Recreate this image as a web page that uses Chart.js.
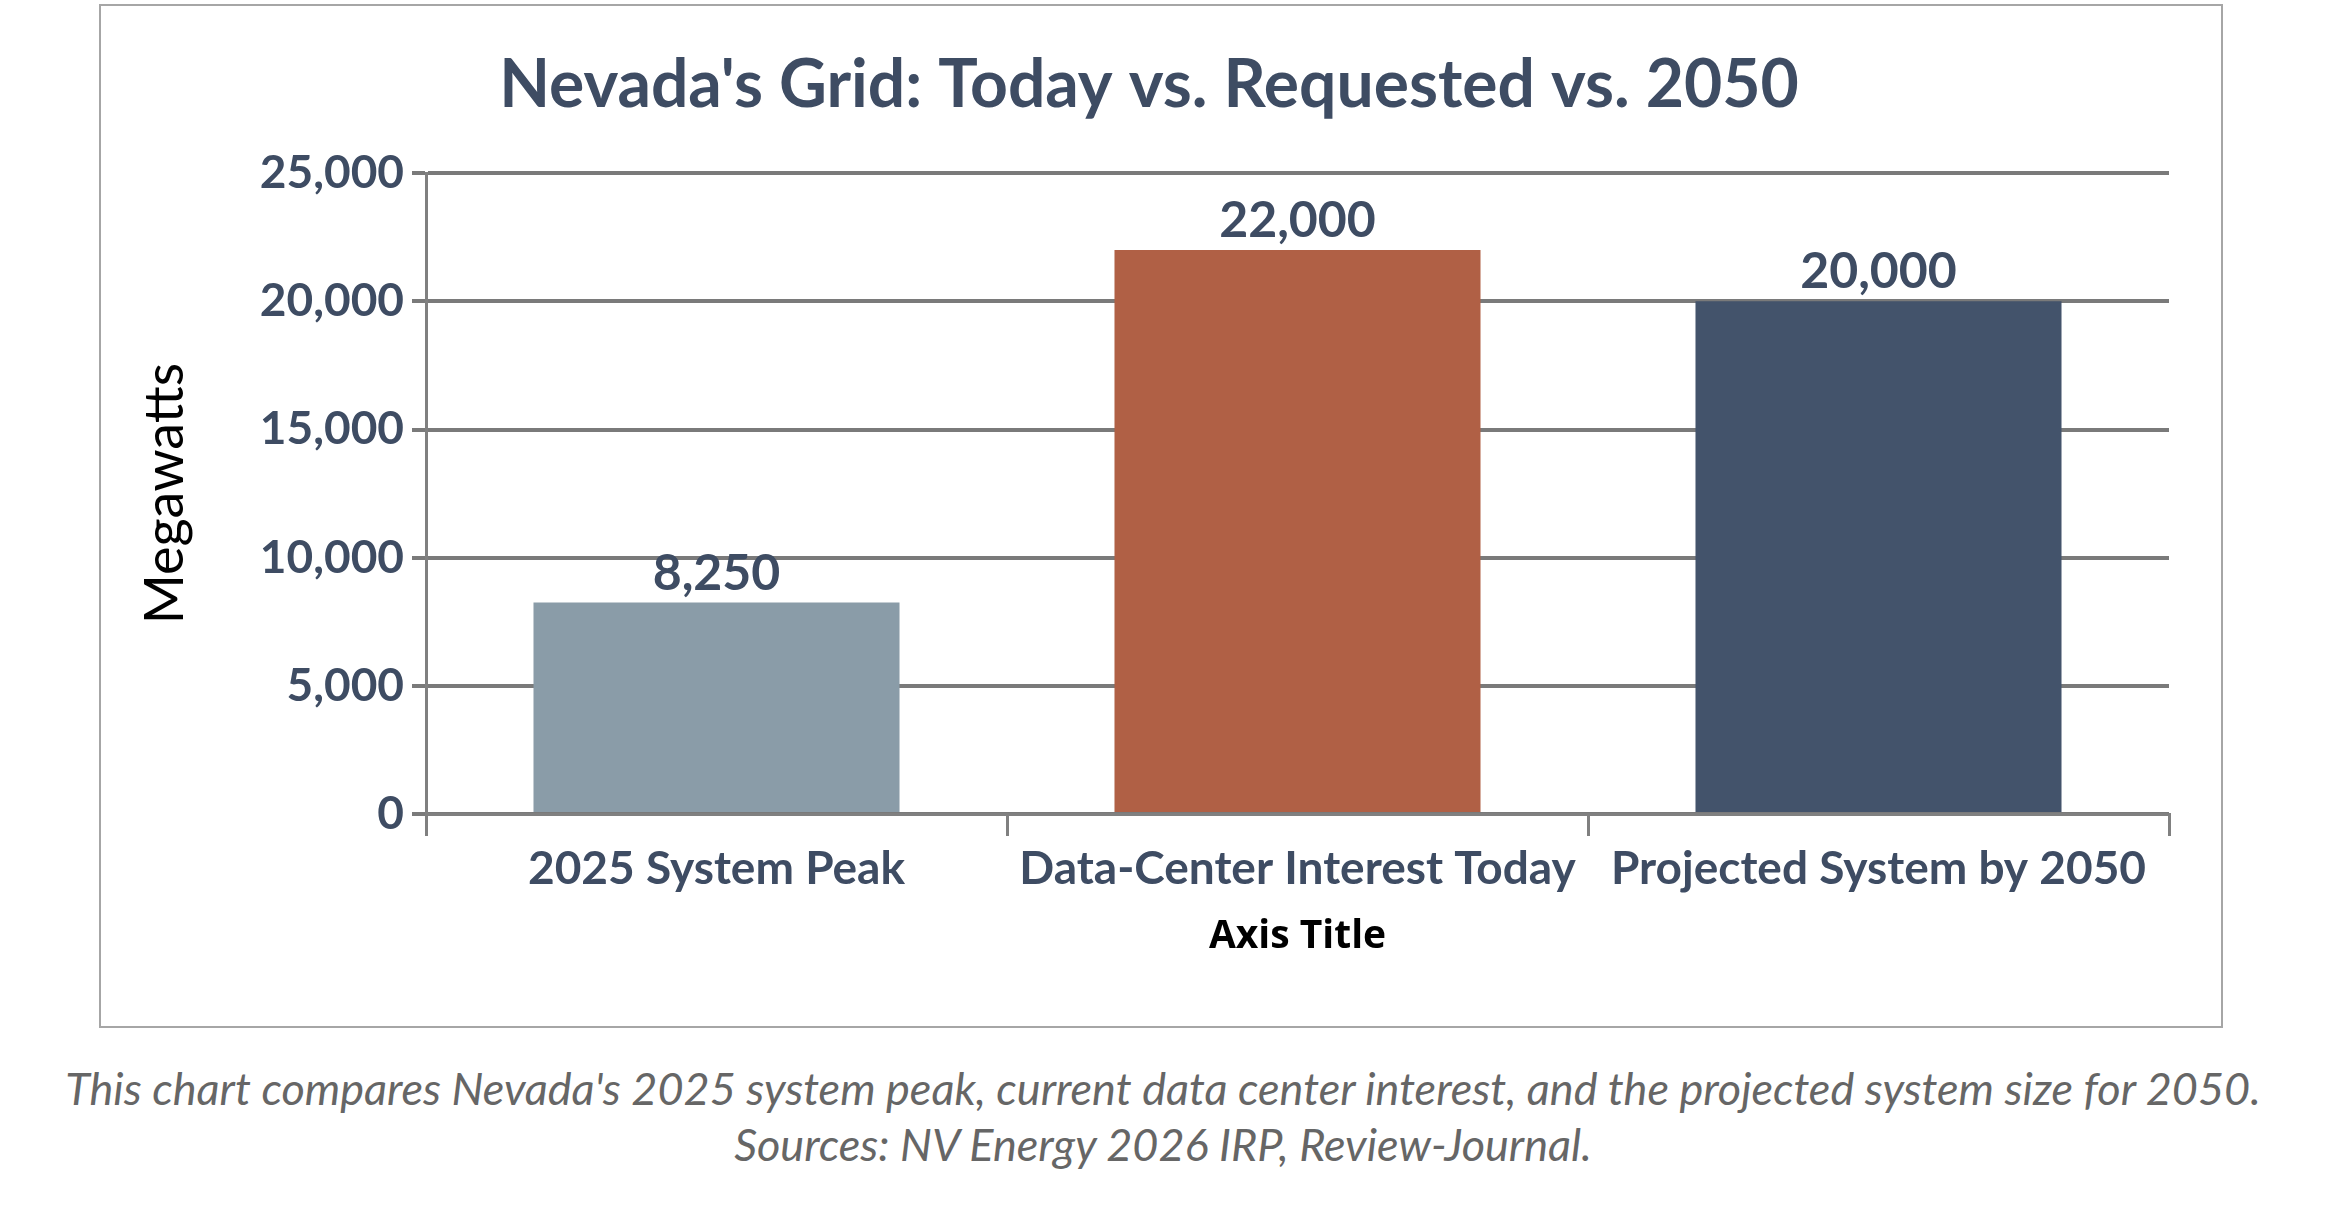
<!DOCTYPE html>
<html>
<head>
<meta charset="utf-8">
<script src="https://cdn.jsdelivr.net/npm/chart.js@4.4.1/dist/chart.umd.min.js"></script>
<style>
  body { margin: 0; background: #fff; width: 2326px; height: 1208px; position: relative; font-family: Lato, sans-serif; }
  #box { position: absolute; left: 99px; top: 4px; width: 2120px; height: 1020px; border: 2px solid #a6a6a6; }
  #caption { position: absolute; left: 0; top: 1060px; width: 2326px; text-align: center; font-style: italic; color: #666; font-size: 45px; line-height: 56px; }
</style>
</head>
<body>
<div id="box"><canvas id="myChart" width="2120" height="1020"></canvas></div>
<div id="caption">This chart compares Nevada's 2025 system peak, current data center interest, and the projected system size for 2050.<br>Sources: NV Energy 2026 IRP, Review-Journal.</div>
<script>
const categories = ["2025 System Peak", "Data-Center Interest Today", "Projected System by 2050"];
const megawatts = [8250, 22000, 20000];
const barColors = ["#8a9ca8", "#b06045", "#43536b"];

const valueLabels = {
  id: "valueLabels",
  afterDatasetsDraw(chart) {
    const c = chart.ctx;
    const meta = chart.getDatasetMeta(0);
    c.save();
    c.font = "bold 50px Lato";
    c.fillStyle = "#3e4c63";
    c.textAlign = "center";
    c.textBaseline = "bottom";
    meta.data.forEach((bar, i) => {
      c.fillText(megawatts[i].toLocaleString("en-US"), bar.x, bar.y - 4);
    });
    c.restore();
  }
};

const ctx = document.getElementById("myChart").getContext("2d");
const myChart = new Chart(ctx, {
  type: "bar",
  data: {
    labels: categories,
    datasets: [{
      data: megawatts,
      backgroundColor: barColors,
      barPercentage: 0.63,
      categoryPercentage: 1
    }]
  },
  options: {
    responsive: false,
    animation: false,
    layout: { padding: { left: 28, right: 52, top: 10, bottom: 62 } },
    plugins: {
      legend: { display: false },
      tooltip: { enabled: false },
      title: {
        display: true,
        text: "Nevada's Grid: Today vs. Requested vs. 2050",
        color: "#3e4c63",
        font: { family: "Lato", size: 66, weight: "bold" },
        padding: { top: 30, bottom: 48 }
      }
    },
    scales: {
      x: {
        grid: { offset: true, drawOnChartArea: false, color: "#808080", lineWidth: 3, tickLength: 22 },
        border: { color: "#808080", width: 3 },
        ticks: { color: "#3e4c63", font: { family: "Lato", size: 46, weight: "bold" }, padding: 6 },
        title: { display: true, text: "Axis Title", color: "#000", font: { family: "Open Sans", size: 39, weight: "bold" }, padding: { top: 10 } }
      },
      y: {
        min: 0, max: 25000,
        afterFit(scale) { scale.width = 297; },
        grid: { color: "#7a7a7a", lineWidth: 4, tickLength: 14 },
        border: { color: "#808080", width: 3 },
        ticks: { stepSize: 5000, color: "#3e4c63", font: { family: "Lato", size: 46, weight: "bold" }, padding: 8,
          callback: v => v.toLocaleString("en-US") },
        title: { display: true, text: "Megawatts", color: "#000", font: { family: "Lato", size: 54 }, padding: { bottom: 10 } }
      }
    }
  },
  plugins: [valueLabels]
});
</script>
</body>
</html>
